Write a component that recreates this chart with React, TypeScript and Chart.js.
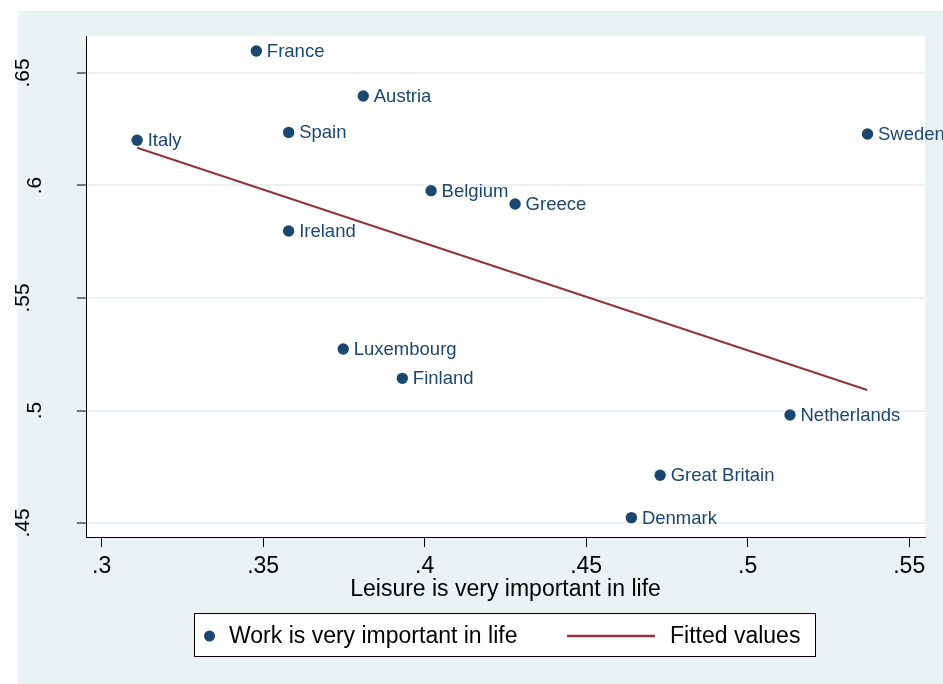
import React, { useEffect, useRef } from 'react';
import { Chart, registerables } from 'chart.js';

Chart.register(...registerables);

// ---- data ----
const COUNTRIES = ['France', 'Austria', 'Spain', 'Italy', 'Sweden', 'Belgium', 'Greece', 'Ireland', 'Luxembourg', 'Finland', 'Netherlands', 'Great Britain', 'Denmark'];
const LEISURE = [0.3479, 0.381, 0.3579, 0.311, 0.5371, 0.402, 0.428, 0.3579, 0.3748, 0.3931, 0.5131, 0.4729, 0.464];
const WORK = [0.6598, 0.6398, 0.6236, 0.6201, 0.6229, 0.5977, 0.5918, 0.5798, 0.5273, 0.5143, 0.498, 0.4712, 0.4524];
const FIT_X = [0.311, 0.537];
const FIT_Y = [0.6168, 0.5091];
const X_TICKS = [0.3, 0.35, 0.4, 0.45, 0.5, 0.55];
const X_TICK_LABELS = ['.3', '.35', '.4', '.45', '.5', '.55'];
const Y_TICKS = [0.45, 0.5, 0.55, 0.6, 0.65];
const Y_TICK_LABELS = ['.45', '.5', '.55', '.6', '.65'];
const SERIES_LABELS = ['Work is very important in life', 'Fitted values'];
const X_TITLE = 'Leisure is very important in life';

const FONT = '"Liberation Sans", Arial, Helvetica, sans-serif';
const NAVY = '#1A476F';
const MAROON = '#90353B';
const BG = '#EAF2F3';

const stataPlugin = {
  id: 'stataLook',
  beforeDraw(chart: any) {
    const { ctx, chartArea: a, width, height } = chart;
    ctx.save();
    ctx.fillStyle = '#ffffff';
    ctx.fillRect(0, 0, width, height);
    ctx.fillStyle = BG;
    ctx.fillRect(18, 11, width - 18, height - 11);
    ctx.fillStyle = '#ffffff';
    ctx.fillRect(a.left, a.top, a.right - a.left, a.bottom - a.top);
    ctx.restore();
  },
  afterDatasetsDraw(chart: any) {
    const { ctx } = chart;
    const meta = chart.getDatasetMeta(0);
    ctx.save();
    ctx.font = `18.5px ${FONT}`;
    ctx.fillStyle = NAVY;
    ctx.textAlign = 'left';
    ctx.textBaseline = 'middle';
    meta.data.forEach((pt: any, i: number) => {
      ctx.fillText(COUNTRIES[i], pt.x + 10.5, pt.y + 1);
    });
    ctx.restore();
  },
  afterDraw(chart: any) {
    const { ctx } = chart;
    const ys = chart.scales.y;
    ctx.save();
    // rotated y tick labels
    ctx.font = `21px ${FONT}`;
    ctx.fillStyle = '#000';
    ys.ticks.forEach((t: any, i: number) => {
      const label = Y_TICK_LABELS[Y_TICKS.indexOf(t.value)] ?? Y_TICK_LABELS[i];
      const py = ys.getPixelForValue(t.value);
      const w = ctx.measureText(label).width;
      ctx.save();
      ctx.translate(58.5 - w, py);
      ctx.rotate(-Math.PI / 2);
      ctx.textAlign = 'center';
      ctx.textBaseline = 'alphabetic';
      ctx.fillText(label, 0, 0);
      ctx.restore();
    });
    // legend box
    const ds = chart.data.datasets;
    ctx.fillStyle = '#fff';
    ctx.fillRect(194.5, 613.5, 621, 43);
    ctx.strokeStyle = '#000';
    ctx.lineWidth = 1;
    ctx.strokeRect(194.5, 613.5, 621, 43);
    ctx.fillStyle = ds[0].backgroundColor;
    ctx.beginPath();
    ctx.arc(209.5, 636, 5.5, 0, Math.PI * 2);
    ctx.fill();
    ctx.strokeStyle = ds[1].borderColor;
    ctx.lineWidth = 2.5;
    ctx.beginPath();
    ctx.moveTo(567, 636);
    ctx.lineTo(655, 636);
    ctx.stroke();
    ctx.font = `23px ${FONT}`;
    ctx.fillStyle = '#000';
    ctx.textAlign = 'left';
    ctx.textBaseline = 'middle';
    ctx.fillText(ds[0].label, 229, 637);
    ctx.fillText(ds[1].label, 670, 637);
    ctx.restore();
  },
};

export default function App() {
  const ref = useRef<HTMLCanvasElement | null>(null);

  useEffect(() => {
    if (!ref.current) return;
    const chart = new Chart(ref.current, {
      type: 'scatter',
      data: {
        datasets: [
          {
            label: SERIES_LABELS[0],
            data: LEISURE.map((x, i) => ({ x, y: WORK[i] })),
            backgroundColor: NAVY,
            borderWidth: 0,
            pointRadius: 5.7,
            pointHoverRadius: 5.7,
          },
          {
            label: SERIES_LABELS[1],
            data: FIT_X.map((x, i) => ({ x, y: FIT_Y[i] })),
            showLine: true,
            borderColor: MAROON,
            backgroundColor: MAROON,
            borderWidth: 2,
            pointRadius: 0,
            pointHoverRadius: 0,
          },
        ],
      },
      options: {
        animation: false,
        responsive: false,
        devicePixelRatio: 1,
        layout: { padding: { left: 0, right: 18, top: 36, bottom: 81 } },
        plugins: {
          legend: { display: false },
          tooltip: { enabled: false },
        },
        scales: {
          x: {
            type: 'linear',
            min: 0.29517,
            max: 0.55489,
            afterBuildTicks: (s: any) => {
              s.ticks = X_TICKS.map((v) => ({ value: v }));
            },
            afterFit: (s: any) => {
              s.height = 66;
            },
            ticks: {
              autoSkip: false,
              maxRotation: 0,
              minRotation: 0,
              padding: 6,
              color: '#000',
              font: { family: FONT, size: 23 },
              callback: (v: any, i: number) => X_TICK_LABELS[i],
            },
            grid: {
              drawOnChartArea: false,
              drawTicks: true,
              tickLength: 10,
              tickColor: '#000',
              tickWidth: 1,
            },
            border: { display: true, color: '#000', width: 1 },
            title: {
              display: true,
              text: X_TITLE,
              color: '#000',
              font: { family: FONT, size: 23 },
              padding: { top: 0, bottom: 0 },
            },
          },
          y: {
            type: 'linear',
            min: 0.44378,
            max: 0.66644,
            afterBuildTicks: (s: any) => {
              s.ticks = Y_TICKS.map((v) => ({ value: v }));
            },
            afterFit: (s: any) => {
              s.width = 86;
            },
            ticks: { display: false },
            grid: {
              drawOnChartArea: true,
              color: BG,
              lineWidth: 2,
              drawTicks: true,
              tickLength: 9,
              tickColor: '#000',
              tickWidth: 1,
            },
            border: { display: true, color: '#000', width: 1 },
          },
        },
      },
      plugins: [stataPlugin],
    } as any);
    return () => chart.destroy();
  }, []);

  return (
    <div style={{ position: 'absolute', left: 0, top: 0, width: 943, height: 684 }}>
      <canvas ref={ref} width={943} height={684} style={{ width: 943, height: 684, display: 'block' }} />
    </div>
  );
}
